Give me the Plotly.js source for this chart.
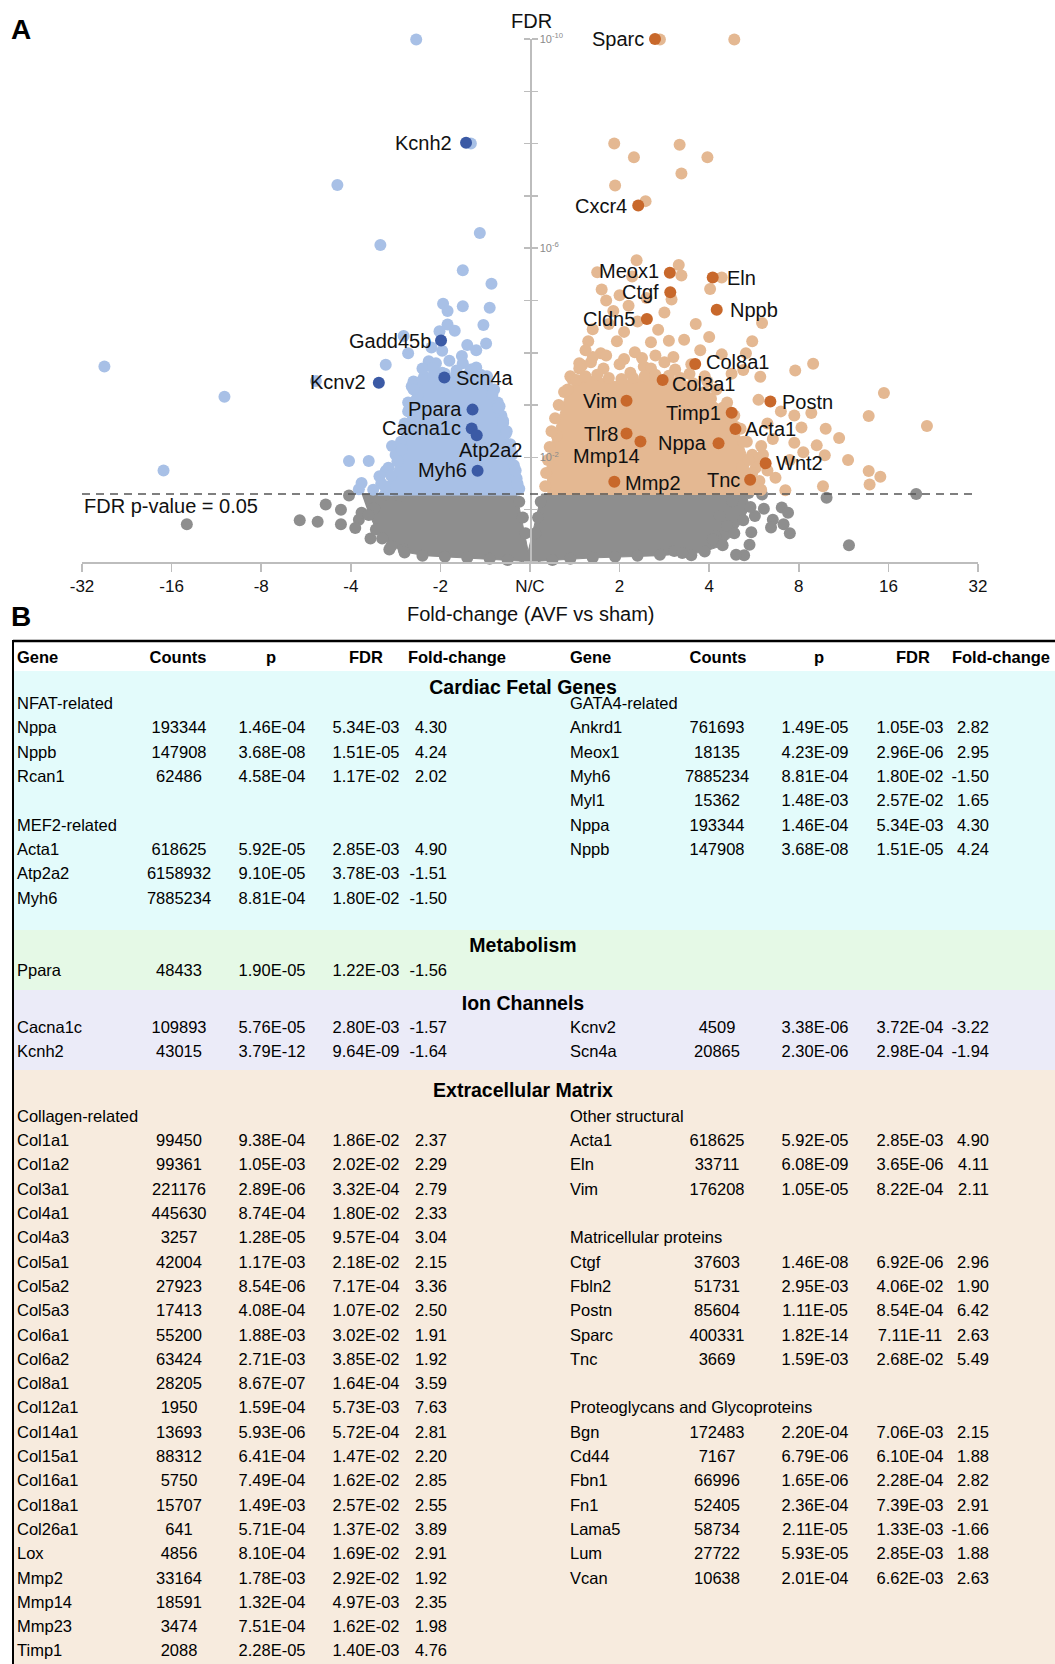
<!DOCTYPE html>
<html><head><meta charset="utf-8">
<script src="https://cdn.plot.ly/plotly-3.0.1.min.js"></script>
<style>html,body{margin:0;padding:0;background:#fff}#chart{width:1055px;height:1664px}</style>
</head><body><div id="chart"></div>
<script>
// ---------------- DATA (volcano) ----------------
// positions: x = signed log2 fold-change, y = -log10(FDR)
const xTickVals = [-5,-4,-3,-2,-1,0,1,2,3,4,5];
const xTickText = ['-32','-16','-8','-4','-2','N/C','2','4','8','16','32'];
const yTickVals = [2,6,10];
const yTickText = ['10<sup>-2</sup>','10<sup>-6</sup>','10<sup>-10</sup>'];
const FDR_CUTOFF = 0.05;
const FDR_CAP = 1e-10;

// dense cloud outlines (non-significant / down / up)
const greyCoreX = [-1.88,-0.15,-0.02,0.13,2.41,2.45,2.36,2.26,2.12,1.91,1.43,0.72,0.13,0,-0.13,-0.70,-1.17,-1.43,-1.62,-1.74,-1.82];
const greyCoreY = [1.30,1.30,0.20,1.30,1.30,1.05,0.77,0.51,0.30,0.18,0.12,0.08,0.02,-0.02,0.02,0.08,0.12,0.20,0.41,0.71,1.01];
const greyX = [-3.83,-2.57,-2.37,-2.28,-2.02,-2.11,-2.11,-1.91,-1.78,-1.74,-1.61,-1.45,-1.95,-1.57,-1.41,-1.88,
  2.26,2.44,2.59,2.61,2.81,2.88,2.71,2.51,2.69,2.83,2.90,2.47,2.45,2.39,2.30,2.07,1.80,1.61,3.31,4.31,3.56,2.12,2.20,2.04,
  -1.80,-1.72,-1.65,-1.55,-1.40,-1.20,-0.95,-0.70,-0.45,-0.25,0.25,0.45,0.70,0.95,1.20,1.45,1.70,1.95,2.15,2.28,2.38,2.46,
  -0.12,-0.08,-0.05,0.06,0.09,0.12];
const greyY = [0.72,0.80,0.77,1.10,1.27,1.00,0.72,0.81,0.45,1.03,1.29,1.26,0.65,0.24,0.24,0.94,
  1.16,1.32,1.29,1.02,1.04,0.94,0.81,0.88,0.66,0.72,0.55,0.57,0.33,0.13,0.14,0.49,0.13,0.21,1.23,1.30,0.32,0.88,0.69,0.43,
  0.90,0.62,0.45,0.30,0.18,0.12,0.10,0.08,0.06,0.04,0.04,0.06,0.08,0.10,0.12,0.14,0.17,0.20,0.32,0.55,0.80,1.05,
  1.15,0.85,0.55,0.55,0.85,1.15];

const downCoreX = [-1.23,-0.94,-0.64,-0.46,-0.38,-0.31,-0.25,-0.18,-0.13,-0.12,-1.70,-1.60,-1.52,-1.46,-1.41,-1.37,-1.33];
const downCoreY = [3.45,3.58,3.55,3.40,3.10,2.80,2.39,1.99,1.58,1.28,1.28,1.50,1.75,2.00,2.33,2.74,3.15];
const downX = [-1.27,-0.66,-2.15,-0.56,-1.67,-0.75,-0.43,-4.75,-3.41,-4.09,-0.97,-0.92,-0.75,-0.45,-0.92,-0.84,-0.52,-1.01,-1.41,-0.98,-0.49,-1.36,-1.13,-1.61,-0.76,-2.39,-1.32,-1.54,-2.02,-1.80,-1.36,-1.61,-1.68,-1.88,-1.91,-0.34,-0.30,
  -1.20,-1.05,-0.90,-0.75,-0.60,-0.48,-0.40,-0.36,-0.32,-0.27,-0.22,-0.18,-0.15,-0.12,-1.30,-1.36,-1.40,-1.44,-1.50,-1.58,-1.66,-1.75,-1.55,-1.25,-1.10,-0.70,-0.60,
  -1.18,-0.98,-0.82,-0.55,-1.08,-0.66,
  -1.30,-1.20,-1.08,-0.95,-0.82,-0.70,-0.58,-0.48,-0.42,-0.36,-0.30,-0.26,-0.22,-0.20,-0.16,-0.14,-1.35,-1.39,-1.43,-1.48,-1.55,-1.62];
const downY = [9.99,8.00,7.21,6.29,6.06,5.58,5.32,3.74,3.16,1.75,4.94,4.80,4.89,4.86,4.54,4.42,4.53,4.41,4.32,4.04,4.18,3.99,3.84,3.77,3.94,3.46,3.36,2.22,1.93,1.93,2.88,1.74,1.64,1.51,1.39,2.98,2.66,
  3.70,3.80,3.85,3.80,3.72,3.55,3.30,3.05,2.80,2.45,2.15,1.85,1.60,1.40,3.45,3.05,2.65,2.30,2.05,1.80,1.50,1.38,1.38,3.20,4.10,4.15,4.05,
  3.55,3.62,3.66,3.58,3.70,3.68,
  3.30,3.48,3.55,3.60,3.58,3.57,3.50,3.40,3.20,2.95,2.70,2.50,2.25,2.05,1.75,1.50,2.90,2.50,2.15,1.92,1.65,1.45];

const upCoreX = [0.20,0.19,0.25,0.33,0.40,0.50,0.70,0.95,1.20,1.45,1.70,1.90,2.08,2.22,2.33,2.41,2.46,2.52];
const upCoreY = [1.28,1.83,2.33,2.80,3.20,3.45,3.55,3.45,3.50,3.55,3.50,3.30,3.05,2.80,2.47,2.07,1.66,1.28];
const upX = [1.45,2.28,0.94,1.67,1.16,1.98,1.69,0.95,1.29,1.19,1.66,0.75,1.69,2.14,0.80,2.01,1.14,
  1.58,2.59,0.93,1.50,1.43,0.65,0.97,1.55,1.72,2.48,1.17,0.79,2.14,2.41,3.16,2.96,1.27,0.58,2.57,2.38,3.95,4.43,3.78,3.14,3.45,3.03,2.80,2.71,2.95,3.20,3.29,2.58,2.52,3.78,3.91,3.79,3.27,2.85,2.74,2.37,2.49,0.30,
  0.45,0.55,0.70,0.85,1.05,1.25,1.40,1.60,1.80,1.95,2.08,2.20,2.28,2.35,2.42,2.48,2.52,2.56,2.58,0.38,0.32,0.28,0.24,0.22,0.20,0.18,0.17,
  0.70,0.88,1.05,1.20,1.35,1.10,0.85,1.00,1.30,1.85,2.00,0.62,1.90,2.25,2.55,2.65,2.60,2.65,2.90,3.05,2.95,3.30,3.55,
  0.55,0.68,0.82,1.00,1.12,1.35,1.50,1.62,1.78,1.98,0.47,
  0.42,0.52,0.62,0.75,0.88,1.02,1.15,1.28,1.40,1.55,1.68,1.82,1.95,2.02,2.15,2.25,2.30,2.38,2.44,2.48,2.50];
const upY = [9.99,9.99,8.00,7.98,7.74,7.74,7.43,7.20,6.90,5.77,5.68,5.54,5.48,5.44,5.21,5.22,5.46,
  5.02,4.57,4.80,4.77,4.44,4.22,4.22,4.23,4.25,4.22,4.01,3.99,3.97,3.99,3.79,3.66,3.74,3.76,3.54,3.67,3.23,2.60,2.79,2.85,2.37,2.57,2.88,2.35,2.28,2.23,2.04,2.22,1.99,1.74,1.63,1.48,1.45,1.37,1.61,1.83,1.39,2.41,
  3.55,3.80,3.92,3.95,3.88,3.90,3.95,3.92,3.78,3.55,3.30,3.05,2.80,2.55,2.30,2.05,1.80,1.55,1.38,3.25,3.00,2.75,2.50,2.20,1.95,1.70,1.45,
  4.45,4.55,4.40,4.60,4.20,4.90,5.00,5.10,5.05,4.55,4.30,4.05,4.05,3.60,3.10,2.65,2.05,1.75,1.95,2.10,2.80,2.55,1.95,
  3.70,3.82,3.70,3.78,3.62,3.70,3.82,3.68,3.60,3.45,3.50,
  3.30,3.48,3.55,3.58,3.52,3.50,3.52,3.55,3.58,3.56,3.52,3.42,3.25,3.12,2.95,2.72,2.58,2.30,1.95,1.70,1.45];

// highlighted genes (fold-change, FDR)
const upGenes = ['Sparc','Cxcr4','Meox1','Eln','Ctgf','Nppb','Cldn5','Col8a1','Col3a1','Vim','Postn','Timp1','Acta1','Tlr8','Mmp14','Nppa','Wnt2','Mmp2','Tnc'];
const upFC = [2.63,2.31,2.95,4.11,2.96,4.24,2.47,3.59,2.79,2.11,6.42,4.76,4.90,2.11,2.35,4.30,6.19,1.92,5.49];
const upFDR = [7.11e-11,1.53e-7,2.96e-6,3.65e-6,6.92e-6,1.51e-5,2.26e-5,1.64e-4,3.32e-4,8.22e-4,8.54e-4,1.40e-3,2.85e-3,3.5e-3,4.97e-3,5.34e-3,1.3e-2,2.92e-2,2.68e-2];
const downGenes = ['Kcnh2','Gadd45b','Kcnv2','Scn4a','Ppara','Cacna1c','Atp2a2','Myh6'];
const downFC = [-1.64,-1.99,-3.22,-1.94,-1.56,-1.57,-1.51,-1.50];
const downFDR = [9.64e-9,5.8e-5,3.72e-4,2.98e-4,1.22e-3,2.80e-3,3.78e-3,1.80e-2];

// ---------------- DATA (table) ----------------
const tableHeader = ['Gene','Counts','p','FDR','Fold-change'];
const nfatRows = [['Nppa','193344','1.46E-04','5.34E-03','4.30'],['Nppb','147908','3.68E-08','1.51E-05','4.24'],['Rcan1','62486','4.58E-04','1.17E-02','2.02']];
const mef2Rows = [['Acta1','618625','5.92E-05','2.85E-03','4.90'],['Atp2a2','6158932','9.10E-05','3.78E-03','-1.51'],['Myh6','7885234','8.81E-04','1.80E-02','-1.50']];
const gata4Rows = [['Ankrd1','761693','1.49E-05','1.05E-03','2.82'],['Meox1','18135','4.23E-09','2.96E-06','2.95'],['Myh6','7885234','8.81E-04','1.80E-02','-1.50'],['Myl1','15362','1.48E-03','2.57E-02','1.65'],['Nppa','193344','1.46E-04','5.34E-03','4.30'],['Nppb','147908','3.68E-08','1.51E-05','4.24']];
const metabolismRows = [['Ppara','48433','1.90E-05','1.22E-03','-1.56']];
const ionLeftRows = [['Cacna1c','109893','5.76E-05','2.80E-03','-1.57'],['Kcnh2','43015','3.79E-12','9.64E-09','-1.64']];
const ionRightRows = [['Kcnv2','4509','3.38E-06','3.72E-04','-3.22'],['Scn4a','20865','2.30E-06','2.98E-04','-1.94']];
const collagenRows = [['Col1a1','99450','9.38E-04','1.86E-02','2.37'],['Col1a2','99361','1.05E-03','2.02E-02','2.29'],['Col3a1','221176','2.89E-06','3.32E-04','2.79'],['Col4a1','445630','8.74E-04','1.80E-02','2.33'],['Col4a3','3257','1.28E-05','9.57E-04','3.04'],['Col5a1','42004','1.17E-03','2.18E-02','2.15'],['Col5a2','27923','8.54E-06','7.17E-04','3.36'],['Col5a3','17413','4.08E-04','1.07E-02','2.50'],['Col6a1','55200','1.88E-03','3.02E-02','1.91'],['Col6a2','63424','2.71E-03','3.85E-02','1.92'],['Col8a1','28205','8.67E-07','1.64E-04','3.59'],['Col12a1','1950','1.59E-04','5.73E-03','7.63'],['Col14a1','13693','5.93E-06','5.72E-04','2.81'],['Col15a1','88312','6.41E-04','1.47E-02','2.20'],['Col16a1','5750','7.49E-04','1.62E-02','2.85'],['Col18a1','15707','1.49E-03','2.57E-02','2.55'],['Col26a1','641','5.71E-04','1.37E-02','3.89'],['Lox','4856','8.10E-04','1.69E-02','2.91'],['Mmp2','33164','1.78E-03','2.92E-02','1.92'],['Mmp14','18591','1.32E-04','4.97E-03','2.35'],['Mmp23','3474','7.51E-04','1.62E-02','1.98'],['Timp1','2088','2.28E-05','1.40E-03','4.76']];
const otherStructRows = [['Acta1','618625','5.92E-05','2.85E-03','4.90'],['Eln','33711','6.08E-09','3.65E-06','4.11'],['Vim','176208','1.05E-05','8.22E-04','2.11']];
const matricellularRows = [['Ctgf','37603','1.46E-08','6.92E-06','2.96'],['Fbln2','51731','2.95E-03','4.06E-02','1.90'],['Postn','85604','1.11E-05','8.54E-04','6.42'],['Sparc','400331','1.82E-14','7.11E-11','2.63'],['Tnc','3669','1.59E-03','2.68E-02','5.49']];
const proteoRows = [['Bgn','172483','2.20E-04','7.06E-03','2.15'],['Cd44','7167','6.79E-06','6.10E-04','1.88'],['Fbn1','66996','1.65E-06','2.28E-04','2.82'],['Fn1','52405','2.36E-04','7.39E-03','2.91'],['Lama5','58734','2.11E-05','1.33E-03','-1.66'],['Lum','27722','5.93E-05','2.85E-03','1.88'],['Vcan','10638','2.01E-04','6.62E-03','2.63']];

// ---------------- STYLE / LAYOUT ----------------
const FONT = 'Liberation Sans, Arial, Helvetica, sans-serif';
const W = 1055, H = 1664;
const C_GREY = '#8e8e8e', C_BLUE = '#a8c0e6', C_ORANGE = '#e4b892', C_DBLUE = '#3b5aa5', C_DORANGE = '#c8682b';
const MS = 12;
const px = v => v / W, py = v => 1 - v / H;
const fcPos = fc => fc > 0 ? Math.log2(fc) : -Math.log2(-fc);
const fdrPos = f => -Math.log10(Math.max(f, FDR_CAP));

const traces = [];
function core(x, y, c) { traces.push({type:'scatter', x, y, mode:'lines', fill:'toself', fillcolor:c, line:{color:c, width:1}, hoverinfo:'skip', xaxis:'x', yaxis:'y'}); }
function dots(x, y, c) { traces.push({type:'scatter', x, y, mode:'markers', marker:{size:MS, color:c, line:{width:0}}, cliponaxis:false, hoverinfo:'skip', xaxis:'x', yaxis:'y'}); }
core(greyCoreX, greyCoreY, C_GREY); dots(greyX, greyY, C_GREY);
core(downCoreX, downCoreY, C_BLUE); dots(downX, downY, C_BLUE);
core(upCoreX, upCoreY, C_ORANGE); dots(upX, upY, C_ORANGE);
dots(upFC.map(fcPos), upFDR.map(fdrPos), C_DORANGE);
dots(downFC.map(fcPos), downFDR.map(fdrPos), C_DBLUE);
traces.push({type:'scatter', x:[0], y:[0], xaxis:'x', yaxis:'y3', mode:'markers', marker:{opacity:0}, hoverinfo:'skip'});

// label placement: [anchor side, xshift, yshift]
const labelStyle = {
  Sparc:['r',-9,0], Cxcr4:['r',-9,0], Meox1:['r',-9,2], Eln:['l',12,0], Ctgf:['r',-9,0], Nppb:['l',11,0], Cldn5:['r',-10,0],
  Col8a1:['l',9,2], Col3a1:['l',7,-4], Vim:['r',-8,0], Postn:['l',10,0], Timp1:['r',-9,0], Acta1:['l',8,0], Tlr8:['r',-7,0],
  Mmp14:['r',2,-14], Nppa:['r',-10,0], Wnt2:['l',8,0], Mmp2:['l',9,-1], Tnc:['r',-8,0],
  Kcnh2:['r',-12,0], Gadd45b:['r',-8,-1], Kcnv2:['r',-11,1], Scn4a:['l',10,0], Ppara:['r',-9,1], Cacna1c:['r',-9,0], Atp2a2:['l',-20,-15], Myh6:['r',-9,1]
};
const annotations = [];
function geneLabels(names, fcs, fdrs) {
  names.forEach((n, i) => {
    const s = labelStyle[n];
    annotations.push({xref:'x', yref:'y', x:fcPos(fcs[i]), y:fdrPos(fdrs[i]), text:n, showarrow:false,
      xanchor: s[0] === 'r' ? 'right' : 'left', yanchor:'middle', xshift:s[1], yshift:s[2], font:{size:20, color:'#111', family:FONT}});
  });
}
geneLabels(upGenes, upFC, upFDR);
geneLabels(downGenes, downFC, downFDR);

annotations.push({xref:'paper', yref:'paper', x:px(21), y:py(30), text:'<b>A</b>', showarrow:false, xanchor:'center', yanchor:'middle', font:{size:28, color:'#000', family:FONT}});
annotations.push({xref:'paper', yref:'paper', x:px(21), y:py(616), text:'<b>B</b>', showarrow:false, xanchor:'center', yanchor:'middle', font:{size:28, color:'#000', family:FONT}});
annotations.push({xref:'paper', yref:'paper', x:px(531), y:py(21), text:'FDR', showarrow:false, xanchor:'center', yanchor:'middle', font:{size:20, color:'#111', family:FONT}});
annotations.push({xref:'paper', yref:'paper', x:px(531), y:py(614), text:'Fold-change (AVF vs sham)', showarrow:false, xanchor:'center', yanchor:'middle', font:{size:20, color:'#111', family:FONT}});
annotations.push({xref:'x', yref:'y', x:-5, y:fdrPos(FDR_CUTOFF), text:'FDR p-value = 0.05', showarrow:false, xanchor:'left', yanchor:'middle', yshift:-12, font:{size:20, color:'#111', family:FONT}});

// ---------------- TABLE ----------------
const COLS = {L:{gene:17, counts:179, p:272, fdr:366, fc:447}, R:{gene:570, counts:717, p:815, fdr:910, fc:989}};
const HEADX = {L:[17,178,271,366,457], R:[570,718,819,913,1001]};
const ROW_H = 24.3;
const cells = {};
function put(x, y, t, align, style) {
  const k = align + '|' + style;
  if (!cells[k]) cells[k] = {x:[], y:[], t:[]};
  cells[k].x.push(x); cells[k].y.push(y); cells[k].t.push(t);
}
function geneRow(side, y, r) {
  const c = COLS[side];
  put(c.gene, y, r[0], 'left', 'n'); put(c.counts, y, r[1], 'center', 'n');
  put(c.p, y, r[2], 'center', 'n'); put(c.fdr, y, r[3], 'center', 'n'); put(c.fc, y, r[4], 'right', 'n');
}
function block(side, base, startIdx, title, rows) {
  if (title) put(COLS[side].gene, base + startIdx * ROW_H, title, 'left', 'n');
  rows.forEach((r, i) => geneRow(side, base + (startIdx + 1 + i) * ROW_H, r));
}
['L','R'].forEach(s => tableHeader.forEach((h, i) => put(HEADX[s][i], 659, '<b>' + h + '</b>', i === 0 ? 'left' : 'center', 'n')));
put(523, 689, '<b>Cardiac Fetal Genes</b>', 'center', 't');
block('L', 705, 0, 'NFAT-related', nfatRows);
block('L', 705, 5, 'MEF2-related', mef2Rows);
block('R', 705, 0, 'GATA4-related', gata4Rows);
put(523, 947, '<b>Metabolism</b>', 'center', 't');
block('L', 972, -1, null, metabolismRows);
put(523, 1005, '<b>Ion Channels</b>', 'center', 't');
block('L', 1028.5, -1, null, ionLeftRows);
block('R', 1028.5, -1, null, ionRightRows);
put(523, 1092, '<b>Extracellular Matrix</b>', 'center', 't');
block('L', 1117.7, 0, 'Collagen-related', collagenRows);
block('R', 1117.7, 0, 'Other structural', otherStructRows);
block('R', 1117.7, 5, 'Matricellular proteins', matricellularRows);
block('R', 1117.7, 12, 'Proteoglycans and Glycoproteins', proteoRows);
const POS = {left:'middle right', center:'middle center', right:'middle left'};
Object.keys(cells).forEach(k => {
  const [align, style] = k.split('|');
  traces.push({type:'scatter', mode:'text', x:cells[k].x, y:cells[k].y, text:cells[k].t, textposition:POS[align],
    textfont:{family:FONT, size: style === 't' ? 19.5 : 16.5, color:'#000'}, xaxis:'x2', yaxis:'y2', cliponaxis:false, hoverinfo:'skip'});
});

const shapes = [
  {type:'rect', xref:'x2', yref:'y2', x0:14, x1:W, y0:671, y1:930, fillcolor:'#e3fbfb', line:{width:0}, layer:'below'},
  {type:'rect', xref:'x2', yref:'y2', x0:14, x1:W, y0:930, y1:990, fillcolor:'#e5f9e6', line:{width:0}, layer:'below'},
  {type:'rect', xref:'x2', yref:'y2', x0:14, x1:W, y0:990, y1:1070, fillcolor:'#ebebf8', line:{width:0}, layer:'below'},
  {type:'rect', xref:'x2', yref:'y2', x0:14, x1:W, y0:1070, y1:H, fillcolor:'#f7ebde', line:{width:0}, layer:'below'},
  {type:'line', xref:'x2', yref:'y2', x0:13, x1:W, y0:641, y1:641, line:{color:'#000', width:2.5}},
  {type:'line', xref:'x2', yref:'y2', x0:13, x1:13, y0:640, y1:H, line:{color:'#000', width:2}},
  {type:'line', xref:'x', yref:'y', x0:-5, x1:5, y0:fdrPos(FDR_CUTOFF), y1:fdrPos(FDR_CUTOFF), line:{color:'#555', width:1.5, dash:'8px,6px'}, layer:'above'}
];

const yMinor = {tick0:0, dtick:1, ticks:'outside', ticklen:6, tickwidth:1.5, tickcolor:'#bdbdbd', showgrid:false};
const layout = {
  width:W, height:H, margin:{l:0, r:0, t:0, b:0}, paper_bgcolor:'#fff', plot_bgcolor:'rgba(0,0,0,0)',
  showlegend:false, hovermode:false, font:{family:FONT, color:'#000'},
  xaxis:{domain:[px(82), px(978)], range:[-5,5], anchor:'y', showline:true, linecolor:'#bdbdbd', linewidth:1.5,
    ticks:'outside', ticklen:8, tickwidth:1.5, tickcolor:'#bdbdbd', tickvals:xTickVals, ticktext:xTickText,
    tickfont:{size:17, color:'#111', family:FONT}, showgrid:false, zeroline:false, fixedrange:true},
  yaxis:{domain:[py(562), py(39)], range:[0,10], anchor:'free', position:px(530), side:'right', showline:true,
    linecolor:'#bdbdbd', linewidth:1.5, ticks:'outside', ticklen:6, tickwidth:1.5, tickcolor:'#bdbdbd',
    tickvals:yTickVals, ticktext:yTickText, tickfont:{size:11, color:'#8a8a8a', family:FONT}, showgrid:false, zeroline:false,
    minor:yMinor},
  yaxis3:{overlaying:'y', range:[0,10], anchor:'free', position:px(530), side:'left', showline:false, ticks:'outside',
    ticklen:6, tickwidth:1.5, tickcolor:'#bdbdbd', tickvals:yTickVals, showticklabels:false, showgrid:false, zeroline:false,
    minor:yMinor},
  xaxis2:{domain:[0,1], range:[0,W], anchor:'y2', visible:false},
  yaxis2:{domain:[0,1], range:[H,0], anchor:'x2', visible:false},
  shapes, annotations
};
Plotly.newPlot('chart', traces, layout, {staticPlot:true, displayModeBar:false});
</script></body></html>
